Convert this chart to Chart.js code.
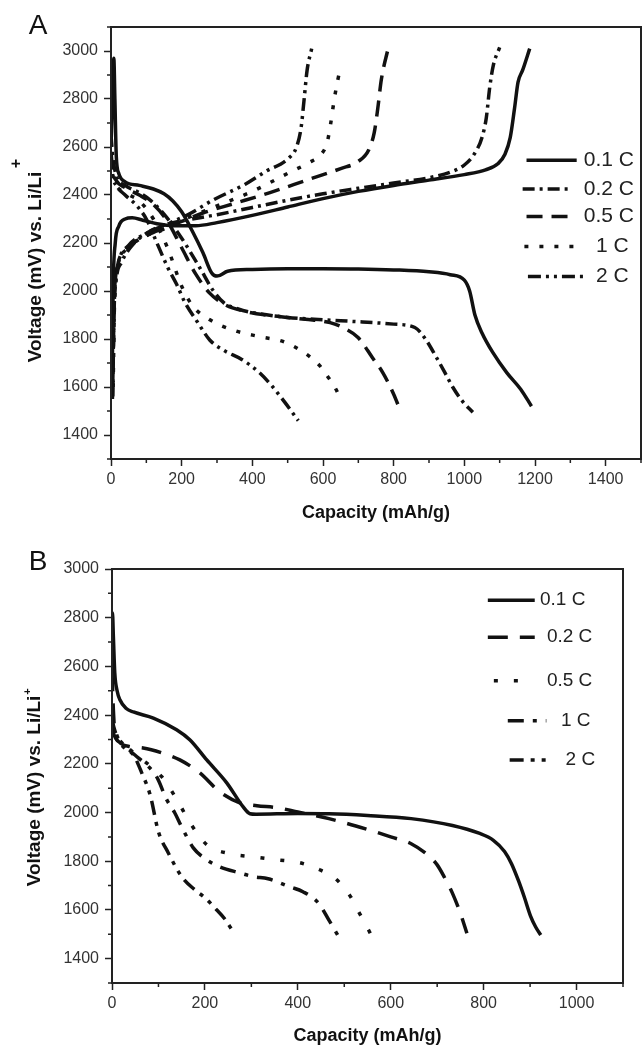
<!DOCTYPE html>
<html>
<head>
<meta charset="utf-8">
<script src="https://cdn.jsdelivr.net/npm/chart.js@4.4.1/dist/chart.umd.min.js"></script>
<style>
  html, body { margin: 0; padding: 0; background: #fff; }
  #wrap { position: relative; width: 644px; height: 1047px; }
  canvas { position: absolute; left: 0; }
  #chartA { top: 0; }
  #chartB { top: 535px; }
</style>
</head>
<body>
<div id="wrap">
  <canvas id="chartA" width="644" height="535"></canvas>
  <canvas id="chartB" width="644" height="512"></canvas>
</div>
<script>
const FONT = "'Liberation Sans', Arial, Helvetica, sans-serif";

// rate labels (same for both panels)
const rates = ['0.1 C', '0.2 C', '0.5 C', '1 C', '2 C'];

// panel A axis ticks
const aXTicks = [0, 200, 400, 600, 800, 1000, 1200, 1400];
const aXMinor = [100, 300, 500, 700, 900, 1100, 1300, 1500];
const aYTicks = [1400, 1600, 1800, 2000, 2200, 2400, 2600, 2800, 3000];
const aYMinor = [1300, 1500, 1700, 1900, 2100, 2300, 2500, 2700, 2900, 3100];

// panel B axis ticks
const bXTicks = [0, 200, 400, 600, 800, 1000];
const bXMinor = [100, 300, 500, 700, 900, 1100];
const bYTicks = [1400, 1600, 1800, 2000, 2200, 2400, 2600, 2800, 3000];
const bYMinor = [1300, 1500, 1700, 1900, 2100, 2300, 2500, 2700, 2900];

// panel A: [capacity mAh/g, voltage mV], discharge and charge per rate
const a01Dis = [[0,2600],[4,2800],[8,2970],[11,2800],[15,2560],[22,2490],[40,2455],[80,2440],[120,2425],[150,2405],[175,2375],[200,2330],[230,2250],[260,2160],[285,2075],[300,2062],[330,2082],[400,2090],[500,2093],[600,2093],[700,2092],[800,2088],[900,2080],[960,2068],[1000,2045],[1015,2000],[1030,1900],[1050,1825],[1080,1745],[1120,1660],[1160,1590],[1190,1520]];
const a01Chg = [[3,1550],[6,2000],[12,2200],[22,2270],[40,2300],[60,2305],[90,2295],[130,2280],[180,2272],[240,2272],[300,2285],[400,2315],[500,2350],[600,2385],[700,2415],[800,2440],[900,2462],[1000,2485],[1060,2505],[1095,2530],[1115,2570],[1130,2640],[1142,2760],[1152,2870],[1165,2920],[1185,3010]];

const a02Dis = [[0,2650],[5,2560],[15,2480],[40,2440],[80,2410],[110,2380],[150,2320],[200,2220],[250,2100],[290,2000],[320,1950],[360,1925],[400,1910],[500,1890],[600,1880],[700,1872],[800,1862],[860,1848],[890,1800],[920,1726],[945,1660],[967,1600],[995,1540],[1024,1495]];
const a02Chg = [[4,1550],[8,1900],[15,2050],[30,2120],[60,2190],[100,2240],[150,2275],[200,2292],[300,2318],[400,2348],[500,2378],[600,2405],[700,2428],[800,2450],[900,2472],[960,2495],[1000,2525],[1030,2575],[1050,2640],[1062,2720],[1072,2850],[1082,2940],[1100,3015]];

const a05Dis = [[0,2580],[5,2500],[15,2460],[40,2430],[80,2400],[120,2360],[160,2290],[200,2180],[240,2070],[280,1990],[320,1945],[380,1915],[450,1898],[550,1882],[620,1868],[660,1845],[700,1805],[740,1722],[770,1658],[800,1570],[818,1505]];
const a05Chg = [[5,1560],[9,1950],[18,2100],[40,2170],[80,2215],[130,2250],[200,2290],[260,2325],[350,2365],[450,2410],[550,2460],[650,2510],[700,2540],[730,2590],[745,2660],[755,2760],[765,2880],[785,3015]];

const a1Dis = [[0,2550],[5,2480],[15,2440],[40,2410],[80,2375],[120,2300],[160,2180],[200,2020],[230,1940],[280,1880],[350,1835],[420,1810],[490,1788],[550,1740],[590,1690],[615,1640],[635,1595],[650,1550]];
const a1Chg = [[6,1600],[10,1950],[20,2100],[50,2180],[100,2230],[160,2265],[200,2295],[250,2325],[300,2355],[400,2415],[500,2490],[560,2535],[595,2570],[612,2620],[622,2700],[632,2800],[642,2880],[651,2940]];

const a2Dis = [[0,2560],[5,2480],[15,2440],[40,2400],[70,2360],[100,2300],[130,2200],[160,2100],[185,2030],[210,1950],[245,1870],[280,1795],[320,1752],[370,1715],[420,1660],[455,1605],[490,1540],[530,1460]];
const a2Chg = [[5,1620],[10,1980],[20,2110],[50,2190],[100,2240],[160,2280],[220,2320],[290,2380],[380,2445],[440,2500],[500,2550],[525,2600],[538,2680],[546,2790],[555,2920],[568,3010]];

// panel B: discharge only
const b01 = [[0,2600],[1,2820],[3,2720],[6,2573],[11,2500],[17,2463],[30,2428],[46,2413],[89,2388],[139,2340],[168,2298],[204,2216],[247,2122],[282,2024],[297,1995],[310,1993],[400,1996],[467,1995],[550,1988],[644,1975],[733,1947],[790,1915],[821,1886],[845,1840],[860,1790],[875,1720],[888,1650],[901,1575],[912,1530],[923,1497]];
const b02 = [[0,2580],[3,2420],[6,2330],[15,2290],[40,2270],[67,2265],[107,2245],[146,2216],[189,2163],[232,2085],[275,2040],[312,2028],[355,2020],[400,2002],[467,1975],[556,1927],[600,1900],[644,1872],[680,1825],[700,1785],[715,1736],[733,1668],[750,1586],[764,1504]];
const b05 = [[0,2400],[4,2380],[10,2320],[25,2285],[53,2235],[80,2195],[107,2147],[140,2052],[168,1958],[204,1868],[254,1831],[304,1818],[354,1806],[404,1794],[447,1765],[480,1730],[500,1690],[515,1650],[529,1599],[545,1545],[556,1504]];
const b1 = [[0,2390],[4,2350],[12,2310],[30,2270],[53,2230],[75,2195],[96,2147],[118,2052],[135,1999],[150,1941],[175,1855],[204,1806],[232,1777],[275,1752],[304,1737],[336,1728],[383,1695],[411,1675],[445,1627],[467,1558],[490,1483]];
const b2 = [[0,2350],[4,2320],[15,2290],[30,2260],[46,2237],[64,2163],[82,2073],[100,1921],[121,1835],[150,1737],[178,1683],[200,1650],[225,1601],[242,1565],[258,1519]];

// line styles
const dashA = [[], [12, 5, 3, 5], [16, 9], [4, 11], [13, 5, 3, 5, 3, 5]];
const dashB = [[], [20, 12], [4, 16], [16, 9, 4, 9], [14, 7, 4, 7, 4, 7]];

// legend placement in data units
const legendA = [
  { x0: 1176, x1: 1318, tx: 1480, y: 2545 },
  { x0: 1165, x1: 1300, tx: 1480, y: 2425 },
  { x0: 1176, x1: 1315, tx: 1480, y: 2310 },
  { x0: 1170, x1: 1315, tx: 1465, y: 2185 },
  { x0: 1180, x1: 1343, tx: 1465, y: 2060 }
];
const legendB = [
  { x0: 809, x1: 910, tx: 1019, y: 2872 },
  { x0: 809, x1: 910, tx: 1034, y: 2720 },
  { x0: 822, x1: 884, tx: 1034, y: 2541 },
  { x0: 852, x1: 935, tx: 1030, y: 2377 },
  { x0: 856, x1: 935, tx: 1040, y: 2216 }
];

function lineSet(label, pts, dash) {
  return {
    label: label,
    data: pts.map(p => ({ x: p[0], y: p[1] })),
    borderColor: '#111',
    borderWidth: 3.5,
    borderDash: dash,
    borderCapStyle: 'butt',
    borderJoinStyle: 'round',
    pointRadius: 0,
    fill: false,
    cubicInterpolationMode: 'monotone'
  };
}

// small ticks + closed frame
const minorTicks = {
  id: 'minorTicks',
  afterDraw(chart, args, o) {
    const { ctx, chartArea: a, scales: { x, y } } = chart;
    ctx.save();
    ctx.strokeStyle = '#222';
    ctx.lineWidth = 1.5;
    ctx.beginPath();
    o.x.forEach(v => {
      const px = x.getPixelForValue(v);
      ctx.moveTo(px, a.bottom);
      ctx.lineTo(px, a.bottom + 4);
    });
    o.y.forEach(v => {
      const py = y.getPixelForValue(v);
      ctx.moveTo(a.left, py);
      ctx.lineTo(a.left - 4, py);
    });
    ctx.stroke();
    ctx.lineWidth = 2;
    ctx.strokeRect(a.left, a.top, a.right - a.left, a.bottom - a.top);
    ctx.restore();
  }
};

const inLegend = {
  id: 'inLegend',
  afterDraw(chart, args, o) {
    const { ctx, scales: { x, y } } = chart;
    ctx.save();
    ctx.strokeStyle = '#111';
    ctx.lineWidth = 3.5;
    ctx.fillStyle = '#222';
    ctx.font = o.size + 'px ' + FONT;
    ctx.textAlign = 'right';
    ctx.textBaseline = 'middle';
    o.items.forEach((it, i) => {
      const py = y.getPixelForValue(it.y);
      ctx.setLineDash(o.dashes[i]);
      ctx.beginPath();
      ctx.moveTo(x.getPixelForValue(it.x0), py);
      ctx.lineTo(x.getPixelForValue(it.x1), py);
      ctx.stroke();
      ctx.fillText(o.labels[i], x.getPixelForValue(it.tx), py);
    });
    ctx.restore();
  }
};

// panel letter and rotated y title with superscript
const decor = {
  id: 'decor',
  afterDraw(chart, args, o) {
    const ctx = chart.ctx;
    ctx.save();
    ctx.fillStyle = '#111';
    ctx.textAlign = 'center';
    ctx.textBaseline = 'middle';
    ctx.font = '28px ' + FONT;
    ctx.fillText(o.letter, o.letterX, o.letterY);
    ctx.translate(o.titleX, o.titleY);
    ctx.rotate(-Math.PI / 2);
    ctx.font = 'bold 19px ' + FONT;
    const w = ctx.measureText(o.title).width;
    ctx.fillText(o.title, 0, 0);
    ctx.font = 'bold ' + o.supSize + 'px ' + FONT;
    ctx.fillText('+', w / 2 + o.supDx, o.supDy);
    ctx.restore();
  }
};

function buildChart(id, c) {
  return new Chart(document.getElementById(id), {
    type: 'line',
    data: { datasets: c.datasets },
    options: {
      responsive: false,
      animation: false,
      events: [],
      layout: { padding: { left: 0, right: c.padRight, top: c.padTop, bottom: 0 } },
      plugins: {
        legend: { display: false },
        tooltip: { enabled: false },
        minorTicks: { x: c.xMinor, y: c.yMinor },
        inLegend: { items: c.legend, labels: rates, dashes: c.dashes, size: c.legendSize },
        decor: c.decor
      },
      scales: {
        x: {
          type: 'linear',
          min: c.xMin, max: c.xMax,
          afterBuildTicks: s => { s.ticks = c.xTicks.map(v => ({ value: v })); },
          afterFit: s => { s.height = c.xHeight; },
          grid: { drawOnChartArea: false, drawTicks: true, tickLength: 7, tickWidth: 1.5, tickColor: '#222' },
          border: { display: true, color: '#222', width: 2 },
          ticks: { color: '#333', font: { family: FONT, size: 16 }, padding: 4, maxRotation: 0, autoSkip: false, callback: v => String(v) },
          title: { display: true, text: 'Capacity (mAh/g)', color: '#111', font: { family: FONT, size: 18, weight: 'bold' }, padding: { top: 0, bottom: c.titlePad } }
        },
        y: {
          type: 'linear',
          min: c.yMin, max: c.yMax,
          afterBuildTicks: s => { s.ticks = c.yTicks.map(v => ({ value: v })); },
          afterFit: s => { s.width = c.yWidth; },
          grid: { drawOnChartArea: false, drawTicks: true, tickLength: 7, tickWidth: 1.5, tickColor: '#222' },
          border: { display: true, color: '#222', width: 2 },
          ticks: { color: '#333', font: { family: FONT, size: 16 }, padding: 6, autoSkip: false, callback: v => String(v) }
        }
      }
    },
    plugins: [minorTicks, inLegend, decor]
  });
}

const aPairs = [[a01Dis, a01Chg], [a02Dis, a02Chg], [a05Dis, a05Chg], [a1Dis, a1Chg], [a2Dis, a2Chg]];
const aSets = [];
aPairs.forEach((p, i) => {
  aSets.push(lineSet(rates[i], p[0], dashA[i]));
  aSets.push(lineSet(rates[i], p[1], dashA[i]));
});

buildChart('chartA', {
  datasets: aSets,
  xMin: 0, xMax: 1500, yMin: 1300, yMax: 3100,
  xTicks: aXTicks, yTicks: aYTicks, xMinor: aXMinor, yMinor: aYMinor,
  padTop: 27, padRight: 3, xHeight: 76, yWidth: 111, titlePad: 11,
  legend: legendA, dashes: dashA, legendSize: 21,
  decor: { letter: 'A', letterX: 38, letterY: 26, title: 'Voltage (mV) vs. Li/Li', titleX: 36, titleY: 267, supSize: 16, supDx: 8, supDy: -19 }
});

const bSets = [b01, b02, b05, b1, b2].map((pts, i) => lineSet(rates[i], pts, dashB[i]));

buildChart('chartB', {
  datasets: bSets,
  xMin: 0, xMax: 1100, yMin: 1300, yMax: 3000,
  xTicks: bXTicks, yTicks: bYTicks, xMinor: bXMinor, yMinor: bYMinor,
  padTop: 34, padRight: 21, xHeight: 64, yWidth: 112, titlePad: 0,
  legend: legendB, dashes: dashB, legendSize: 19,
  decor: { letter: 'B', letterX: 38, letterY: 27, title: 'Voltage (mV) vs. Li/Li', titleX: 35, titleY: 256, supSize: 11, supDx: 4, supDy: -7 }
});
</script>
</body>
</html>
